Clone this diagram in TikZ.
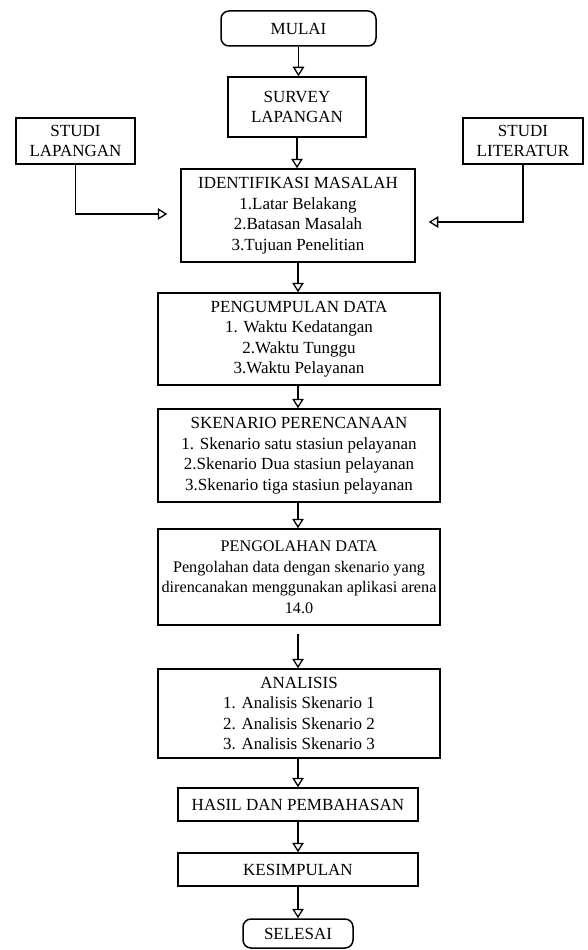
\documentclass[tikz,border=0pt]{standalone}
\usepackage{fontspec}
\setmainfont{Liberation Serif}
\usetikzlibrary{arrows.meta}
\begin{document}
\begin{tikzpicture}[x=1pt,y=-1pt,
  kotak/.style={draw,line width=1.5pt,inner sep=0pt,align=center,
    font=\fontsize{17}{20.5}\selectfont},
  ujung/.style={kotak,rounded corners=8pt},
  panah/.style={line width=1.5pt,-{Triangle[open,length=9.5pt,width=11.5pt,line width=1.3pt]}}]
\useasboundingbox (0,0) rectangle (587,950);
% kotak alur
\node[ujung,minimum width=155pt,minimum height=35pt] (mulai) at (298.5,28.5) {MULAI};
\node[kotak,minimum width=138pt,minimum height=60pt] (survey) at (297,107) {SURVEY\\LAPANGAN};
\node[kotak,minimum width=119pt,minimum height=46pt] (studilap) at (75.5,141) {STUDI\\LAPANGAN};
\node[kotak,minimum width=120pt,minimum height=46pt] (studilit) at (523,141) {STUDI\\LITERATUR};
\node[kotak,minimum width=234pt,minimum height=93pt] (identifikasi) at (298,215.5)
  {IDENTIFIKASI MASALAH\\1.Latar Belakang\\2.Batasan Masalah\\3.Tujuan Penelitian};
\node[kotak,minimum width=282pt,minimum height=92pt] (pengumpulan) at (299,339)
  {PENGUMPULAN DATA\\1. Waktu Kedatangan\\2.Waktu Tunggu\\3.Waktu Pelayanan};
\node[kotak,minimum width=282pt,minimum height=93pt] (skenario) at (299,455.5)
  {SKENARIO PERENCANAAN\\1. Skenario satu stasiun pelayanan\\2.Skenario Dua stasiun pelayanan\\3.Skenario tiga stasiun pelayanan};
\node[kotak,minimum width=282pt,minimum height=96pt,font=\fontsize{16.2}{20.5}\selectfont] (pengolahan) at (299,577)
  {PENGOLAHAN DATA\\Pengolahan data dengan skenario yang\\direncanakan menggunakan aplikasi arena\\14.0};
\node[kotak,minimum width=282pt,minimum height=89pt] (analisis) at (299,713.5)
  {ANALISIS\\1. Analisis Skenario 1\\2. Analisis Skenario 2\\3. Analisis Skenario 3};
\node[kotak,minimum width=240pt,minimum height=33pt] (hasil) at (298,804.5) {HASIL DAN PEMBAHASAN};
\node[kotak,minimum width=240pt,minimum height=33pt] (kesimpulan) at (298,869.5) {KESIMPULAN};
\node[ujung,minimum width=110pt,minimum height=29pt] (selesai) at (298,933.5) {SELESAI};
% panah
\draw[panah] (mulai.south) -- (mulai.south |- survey.north);
\draw[panah] (survey.south) -- (survey.south |- identifikasi.north);
\draw[panah,shorten >=13pt] (studilap.south) |- (identifikasi.west |- 0,214);
\draw[panah,shorten >=13pt] (studilit.south) |- (identifikasi.east |- 0,222);
\draw[panah] (identifikasi.south) -- (identifikasi.south |- pengumpulan.north);
\draw[panah] (identifikasi.south |- pengumpulan.south) -- (identifikasi.south |- skenario.north);
\draw[panah] (identifikasi.south |- skenario.south) -- (identifikasi.south |- pengolahan.north);
\draw[panah,shorten <=8pt] (identifikasi.south |- pengolahan.south) -- (identifikasi.south |- analisis.north);
\draw[panah] (hasil.north |- analisis.south) -- (hasil.north);
\draw[panah] (hasil.south) -- (kesimpulan.north);
\draw[panah] (kesimpulan.south) -- (selesai.north);
\end{tikzpicture}
\end{document}
